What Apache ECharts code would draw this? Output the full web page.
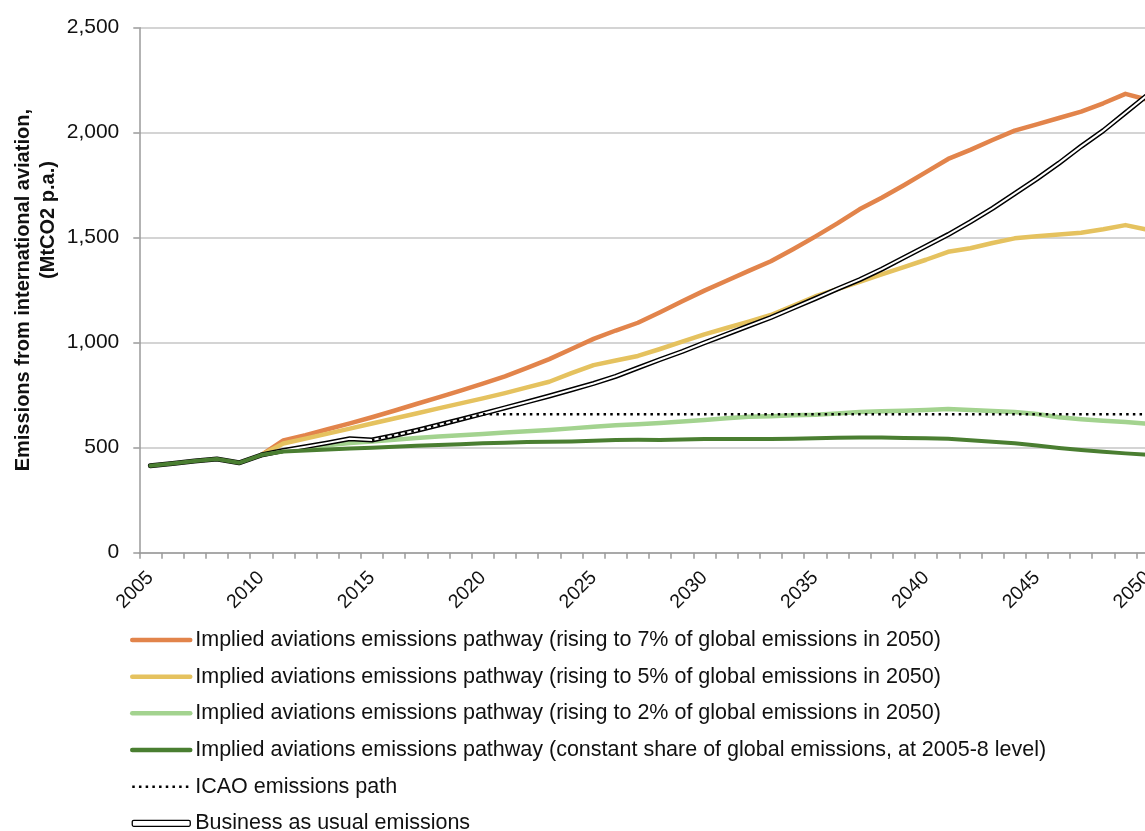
<!DOCTYPE html>
<html>
<head>
<meta charset="utf-8">
<script src="https://cdn.jsdelivr.net/npm/echarts@6/dist/echarts.min.js"></script>
<style>
  html, body { margin: 0; padding: 0; background: #fff; overflow: hidden; }
  /* the plot runs a little past the right edge of the window */
  #chart { width: 1160px; height: 860px; }
</style>
</head>
<body>
<div id="chart"></div>
<script>
// Years on the category axis
const years = ['2005','2006','2007','2008','2009','2010','2011','2012','2013','2014',
  '2015','2016','2017','2018','2019','2020','2021','2022','2023','2024',
  '2025','2026','2027','2028','2029','2030','2031','2032','2033','2034',
  '2035','2036','2037','2038','2039','2040','2041','2042','2043','2044',
  '2045','2046','2047','2048','2049','2050'];

// Observed emissions 2005-2010 (MtCO2 p.a.)
const history = [414, 425, 437, 446, 428, 465];

// Projections 2011-2050
const pathway7 = [535, 560, 588, 616, 645, 676, 708, 740, 772, 805,
  840, 880, 922, 970, 1018, 1058, 1095, 1145, 1197, 1248,
  1295, 1342, 1388, 1445, 1505, 1568, 1635, 1690, 1750, 1812,
  1875, 1918, 1965, 2010, 2040, 2070, 2100, 2140, 2185, 2157];
const pathway5 = [520, 543, 567, 591, 615, 639, 663, 687, 711, 735,
  760, 787, 814, 855, 893, 915, 937, 970, 1005, 1040,
  1070, 1100, 1132, 1175, 1220, 1255, 1290, 1325, 1360, 1395,
  1433, 1450, 1475, 1497, 1507, 1515, 1524, 1540, 1560, 1538];
const pathway2 = [485, 500, 512, 522, 530, 538, 546, 553, 559, 565,
  572, 578, 584, 592, 600, 607, 612, 618, 625, 632,
  640, 647, 650, 654, 657, 663, 670, 673, 676, 680,
  684, 680, 675, 670, 660, 645, 636, 628, 622, 614];
const pathwayConstant = [482, 487, 492, 496, 500, 505, 509, 513, 517, 521,
  524, 527, 528, 530, 533, 537, 538, 537, 539, 542,
  542, 542, 542, 543, 545, 547, 549, 548, 546, 545,
  543, 536, 528, 521, 510, 499, 489, 481, 473, 466];
const businessAsUsual = [487, 505, 523, 543, 537, 558, 582, 608, 635, 662,
  690, 718, 746, 776, 806, 840, 880, 920, 958, 1000,
  1040, 1080, 1120, 1165, 1210, 1256, 1300, 1350, 1405, 1460,
  1515, 1575, 1640, 1710, 1780, 1855, 1935, 2010, 2095, 2180];
// ICAO path, 2015-2050
const icaoPath = [537, 558, 582, 608, 635, 659,
  659, 659, 659, 659, 659, 659, 659, 659, 659, 659,
  659, 659, 659, 659, 659, 659, 659, 659, 659, 659,
  659, 659, 659, 659, 659, 659, 659, 659, 659, 659];

const yTicks = [0, 500, 1000, 1500, 2000, 2500];

const names = {
  p7: 'Implied aviations emissions pathway (rising to 7% of global emissions in 2050)',
  p5: 'Implied aviations emissions pathway (rising to 5% of global emissions in 2050)',
  p2: 'Implied aviations emissions pathway (rising to 2% of global emissions in 2050)',
  pc: 'Implied aviations emissions pathway (constant share of global emissions, at 2005-8 level)',
  icao: 'ICAO emissions path',
  bau: 'Business as usual emissions'
};

// Pathways branch off from the last observed year
const lastObserved = history[history.length - 1];
const branch = history.map((v, i) => (i === history.length - 1 ? lastObserved : null));
const icaoLead = years.slice(0, years.length - icaoPath.length).map(() => null);

const FONT = '"Liberation Sans", Arial, sans-serif';
const ICAO_DASH = [2.5, 4.2];

function lineSeries(name, data, color, width, extra) {
  return Object.assign({
    name: name,
    type: 'line',
    data: data,
    symbol: 'none',
    showSymbol: false,
    smooth: false,
    connectNulls: false,
    silent: true,
    lineStyle: { color: color, width: width, join: 'round', cap: 'round' },
    itemStyle: { color: color },
    emphasis: { disabled: true }
  }, extra || {});
}

const chart = echarts.init(document.getElementById('chart'), null, { renderer: 'canvas' });

chart.setOption({
  animation: false,
  backgroundColor: '#ffffff',
  textStyle: { fontFamily: FONT },
  grid: { left: 139.3, top: 27.7, width: 1019.4, height: 525, containLabel: false },
  legend: {
    orient: 'vertical',
    left: 130,
    top: 628,
    padding: 0,
    itemWidth: 58,
    itemHeight: 6,
    itemGap: 12.67,
    selectedMode: false,
    itemStyle: { opacity: 0, borderWidth: 0 },
    lineStyle: { width: 4.5, cap: 'round' },
    textStyle: { fontFamily: FONT, fontSize: 21.5, color: '#111', lineHeight: 24 },
    data: [
      { name: names.p7 },
      { name: names.p5 },
      { name: names.p2 },
      { name: names.pc, lineStyle: { width: 4.5, cap: 'round' } },
      { name: names.icao, lineStyle: { width: 2.5, type: ICAO_DASH, cap: 'butt' } },
      { name: names.bau, icon: 'roundRect',
        itemStyle: { color: '#ffffff', opacity: 1, borderColor: '#000000', borderWidth: 1.3 } }
    ]
  },
  graphic: [
    {
      // second line of the value-axis title
      type: 'text',
      x: 48,
      y: 220,
      rotation: Math.PI / 2,
      style: {
        text: '(MtCO2 p.a.)',
        font: 'bold 20px ' + FONT,
        fill: '#111',
        align: 'center',
        verticalAlign: 'middle'
      }
    }
  ],
  xAxis: {
    type: 'category',
    data: years,
    boundaryGap: true,
    axisLine: { lineStyle: { color: '#9a9a9a', width: 1.5 } },
    axisTick: { show: true, interval: 0, length: 6, lineStyle: { color: '#9a9a9a', width: 1.5 } },
    axisLabel: {
      interval: 4,
      rotate: 45,
      margin: 22,
      fontSize: 19.5,
      color: '#111',
      fontFamily: FONT
    },
    splitLine: { show: false }
  },
  yAxis: {
    type: 'value',
    min: yTicks[0],
    max: yTicks[yTicks.length - 1],
    interval: 500,
    name: 'Emissions from international aviation,',
    nameLocation: 'middle',
    nameRotate: 90,
    nameGap: 104,
    nameTextStyle: { fontFamily: FONT, fontSize: 20, fontWeight: 'bold', color: '#111', lineHeight: 24 },
    axisLine: { show: true, lineStyle: { color: '#9a9a9a', width: 1.5 } },
    axisTick: { show: true, length: 6, lineStyle: { color: '#9a9a9a', width: 1.5 } },
    axisLabel: {
      margin: 20,
      fontSize: 21,
      color: '#111',
      fontFamily: FONT,
      formatter: v => v.toLocaleString('en-US')
    },
    splitLine: { show: true, lineStyle: { color: '#c6c6c6', width: 1.5 } }
  },
  series: [
    lineSeries(names.p7, branch.concat(pathway7), '#e2844b', 4.5),
    lineSeries(names.p5, branch.concat(pathway5), '#e5c25f', 4.5),
    lineSeries(names.p2, branch.concat(pathway2), '#a3d38f', 4.5),
    lineSeries(names.bau, history.concat(businessAsUsual), '#000000', 5),
    lineSeries('bau-core', history.concat(businessAsUsual), '#ffffff', 2),
    lineSeries(names.icao, icaoLead.concat(icaoPath), '#000000', 2.5,
      { lineStyle: { color: '#000000', width: 2.5, type: ICAO_DASH, cap: 'butt' } }),
    lineSeries(names.pc, history.concat(pathwayConstant), '#4a7e31', 4)
  ]
});
</script>
</body>
</html>
